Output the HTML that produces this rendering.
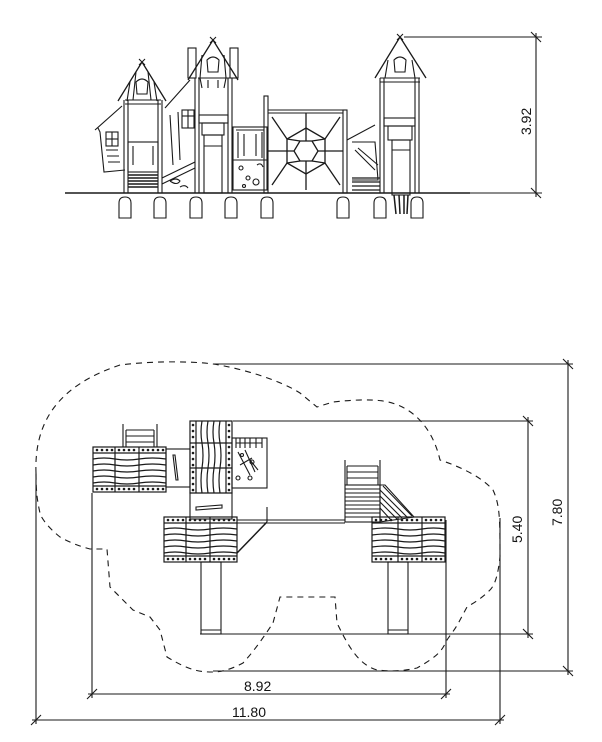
<!DOCTYPE html>
<html><head><meta charset="utf-8">
<style>
html,body{margin:0;padding:0;background:#fff;}
svg{display:block;}
text{font-family:"Liberation Sans",sans-serif;font-size:14px;fill:#111;}
</style></head>
<body>
<svg id="s" width="602" height="742" viewBox="0 0 602 742" xmlns="http://www.w3.org/2000/svg">
<g fill="none" stroke="#1a1a1a" stroke-width="1.1">

<!-- ===== ELEVATION ===== -->
<line x1="65" y1="193" x2="470" y2="193" stroke-width="1.4"/>
<line x1="470" y1="193" x2="542" y2="193"/>
<line x1="404" y1="37" x2="542" y2="37"/>
<line x1="536" y1="33" x2="536" y2="197"/>
<line x1="531" y1="32" x2="541" y2="42"/>
<line x1="531" y1="188" x2="541" y2="198"/>

<!-- left wing -->
<path d="M95 130 L122 106 M98 128 L100 132 L104 172 L125 170"/>
<rect x="106" y="132" width="12" height="14"/>
<line x1="106" y1="139" x2="118" y2="139"/><line x1="112" y1="132" x2="112" y2="146"/>
<path d="M106 150 L118 150 M107 156 L119 156 M108 162 L120 162"/>
<!-- left tower -->
<path d="M142 62 L118 101 M142 62 L166 101" stroke-width="1.3"/>
<path d="M139 59 l6 6 M145 59 l-6 6"/>
<path d="M130 82 L127 101 M154 82 L157 101 M136 72 L133 100 M148 72 L151 100"/>
<path d="M136 82 Q142 76 148 82 L147 94 L137 94 Z"/>
<path d="M125 100 L161 100 M125 104 L161 104"/>
<line x1="124" y1="100" x2="124" y2="193"/><line x1="128" y1="100" x2="128" y2="193"/>
<line x1="158" y1="100" x2="158" y2="193"/><line x1="162" y1="100" x2="162" y2="193"/>
<rect x="128" y="142" width="30" height="30"/>
<path d="M133 146 L133 165 M153 146 L153 165"/>
<path d="M128 175 L158 175 M128 178 L158 178 M128 181 L158 181 M128 184 L158 184 M128 187 L158 187" stroke-width="1.4"/>
<!-- ramp between -->
<path d="M162 178 L195 162 M162 184 L195 168 M165 108 L190 80"/>
<path d="M170 181 q6 -4 10 0 q-3 5 -10 0 M180 187 q5 -3 8 1"/>
<rect x="182" y="110" width="12" height="18"/>
<line x1="182" y1="116" x2="194" y2="116"/><line x1="188" y1="110" x2="188" y2="128"/>
<path d="M170 115 L173 165 M178 112 L180 160"/>
<!-- second tower -->
<path d="M213 40 L188 80 M213 40 L238 80" stroke-width="1.3"/>
<path d="M210 37 l6 6 M216 37 l-6 6"/>
<rect x="188" y="48" width="8" height="30"/><rect x="230" y="48" width="8" height="30"/>
<path d="M202 55 L200 78 M224 55 L226 78"/>
<path d="M207 60 Q213 54 219 60 L218 72 L208 72 Z"/>
<path d="M198 78 L230 78 M200 78 L202 88 M226 78 L224 88 M208 80 L208 88 M218 80 L218 88"/>
<line x1="195" y1="78" x2="195" y2="193"/><line x1="199" y1="78" x2="199" y2="193"/>
<line x1="228" y1="78" x2="228" y2="193"/><line x1="232" y1="78" x2="232" y2="193"/>
<rect x="199" y="115" width="29" height="8"/>
<rect x="202" y="123" width="22" height="12"/>
<rect x="204" y="135" width="18" height="58"/>
<line x1="204" y1="146" x2="222" y2="146"/>
<!-- climbing box -->
<rect x="233" y="127" width="34" height="63"/>
<line x1="233" y1="160" x2="267" y2="160"/>
<path d="M238 132 L238 158 M262 132 L262 158 M236 130 L264 130 M244 134 L244 156 M256 134 L256 156"/>
<circle cx="241" cy="168" r="2"/><circle cx="248" cy="178" r="2"/><circle cx="256" cy="182" r="3"/><path d="M257 165 q4 -3 6 2"/><circle cx="244" cy="186" r="1.5"/>
<!-- net panel -->
<rect x="264" y="96" width="4" height="97"/>
<rect x="343" y="110" width="4" height="83"/>
<line x1="268" y1="110" x2="343" y2="110"/><line x1="268" y1="113" x2="343" y2="113"/>
<g stroke-width="1.3">
<polygon points="300,141 312,141 318,151 312,161 300,161 294,151"/>
<polygon points="306,128 325,139 325,163 306,174 287,163 287,139"/>
<path d="M306 128 L306 113 M325 139 L340 117 M325 151 L343 151 M325 163 L340 185 M306 174 L306 190 M287 163 L272 185 M287 151 L268 151 M287 139 L272 117 M300 141 L287 139 M312 141 L325 139 M318 151 L325 151 M312 161 L325 163 M300 161 L287 163 M294 151 L287 151 M306 141 L306 128 M306 161 L306 174"/>
</g>
<!-- right side -->
<path d="M347 140 L375 125 M352 142 L375 142 L378 180 L352 180"/>
<path d="M355 150 L375 170 M358 148 L378 165"/>
<path d="M352 178 L380 178 M352 182 L380 182 M352 186 L380 186 M352 190 L380 190" stroke-width="1.3"/>
<!-- right tower -->
<path d="M400 37 L375 78 M400 37 L426 78" stroke-width="1.3"/>
<path d="M397 34 l6 6 M403 34 l-6 6"/>
<path d="M388 60 L385 78 M412 60 L415 78"/>
<path d="M394 60 Q400 54 406 60 L405 72 L395 72 Z"/>
<path d="M380 78 L420 78 M380 82 L420 82"/>
<line x1="380" y1="78" x2="380" y2="193"/><line x1="384" y1="78" x2="384" y2="193"/>
<line x1="415" y1="78" x2="415" y2="193"/><line x1="419" y1="78" x2="419" y2="193"/>
<rect x="384" y="118" width="31" height="8"/>
<rect x="388" y="126" width="24" height="14"/>
<rect x="392" y="140" width="18" height="55"/>
<line x1="392" y1="150" x2="410" y2="150"/>
<path d="M394 195 L396 214 M399 195 L400 214 M404 195 L404 214 M408 195 L407 214" stroke-width="1.5"/>
<!-- footings -->
<path d="M119 218 L119 203 Q119 197 125 197 Q131 197 131 203 L131 218 Z"/>
<path d="M154 218 L154 203 Q154 197 160 197 Q166 197 166 203 L166 218 Z"/>
<path d="M190 218 L190 203 Q190 197 196 197 Q202 197 202 203 L202 218 Z"/>
<path d="M225 218 L225 203 Q225 197 231 197 Q237 197 237 203 L237 218 Z"/>
<path d="M261 218 L261 203 Q261 197 267 197 Q273 197 273 203 L273 218 Z"/>
<path d="M337 218 L337 203 Q337 197 343 197 Q349 197 349 203 L349 218 Z"/>
<path d="M374 218 L374 203 Q374 197 380 197 Q386 197 386 203 L386 218 Z"/>
<path d="M411 218 L411 203 Q411 197 417 197 Q423 197 423 203 L423 218 Z"/>

<!-- ===== PLAN ===== -->
<line x1="213" y1="364" x2="573" y2="364"/>
<line x1="233" y1="421" x2="533" y2="421"/>
<line x1="200" y1="634" x2="533" y2="634"/>
<line x1="213" y1="671" x2="573" y2="671"/>
<line x1="528" y1="417" x2="528" y2="638"/>
<line x1="568" y1="360" x2="568" y2="675"/>
<line x1="523" y1="416" x2="533" y2="426"/><line x1="523" y1="629" x2="533" y2="639"/>
<line x1="563" y1="359" x2="573" y2="369"/><line x1="563" y1="666" x2="573" y2="676"/>
<line x1="92" y1="493" x2="92" y2="698"/>
<line x1="446" y1="520" x2="446" y2="698"/>
<line x1="36" y1="473" x2="36" y2="724"/>
<line x1="500" y1="518" x2="500" y2="724"/>
<line x1="88" y1="694" x2="450" y2="694"/>
<line x1="32" y1="720" x2="504" y2="720"/>
<line x1="87" y1="699" x2="97" y2="689"/><line x1="441" y1="699" x2="451" y2="689"/>
<line x1="31" y1="725" x2="41" y2="715"/><line x1="495" y1="725" x2="505" y2="715"/>

<path stroke-dasharray="6,5" d="M36 473 C34 420 60 385 120 365 C160 360 200 362 213 364 C240 368 280 380 300 393 L317 407 L333 402 C350 400 370 399 383 401 C410 405 432 425 440 460 C455 465 480 475 493 490 C500 505 500 520 500 557 C498 575 495 585 490 590 C480 600 470 605 467 607 L460 620 C455 630 450 635 447 640 C442 650 440 655 417 668 C400 672 385 671 377 670 C360 665 350 650 337 623 L335 597 L280 597 L273 623 C265 635 255 650 243 663 C230 670 220 672 213 672 C200 672 190 671 167 657 L160 630 L150 617 L133 610 L110 587 L107 549 L90 549 C75 545 65 540 60 537 C45 525 40 515 40 513 C37 500 36 490 36 473"/>

<path d="M123 424 L123 447 M157 424 L157 447 M126 430 L154 430 M126 436 L154 436 M126 442 L154 442 M126 430 L126 447 M154 430 L154 447"/>
<rect x="166" y="449" width="24" height="38"/>
<path d="M173 455 L176 480 L178 480 L175 455 Z"/>
<rect x="190" y="493" width="42" height="26"/>
<path d="M196 507 L222 505 L222 508 L196 510 Z"/>
<rect x="232" y="438" width="35" height="50"/>
<path d="M236 438 L236 448 M262 438 L262 448 M236 443 L262 443 M240 438 L240 448 M245 438 L245 448 M250 438 L250 448 M256 438 L256 448"/>
<path d="M238 452 L250 475 M245 450 L255 472 M250 460 L258 470 M240 465 L252 458"/>
<circle cx="242" cy="455" r="1.5"/><circle cx="252" cy="462" r="2"/><circle cx="238" cy="478" r="2"/><circle cx="250" cy="478" r="2"/>
<path d="M237 520 L345 520 M237 523 L345 523"/>
<line x1="267" y1="507" x2="267" y2="522"/>
<path d="M267 522 L237 553" stroke-width="1.5"/>
<path d="M345 460 L345 485 M380 460 L380 485 M347 466 L378 466 M347 472 L378 472 M347 478 L378 478 M347 466 L347 485 M378 466 L378 485"/>
<rect x="345" y="485" width="35" height="37"/>
<path d="M345 489 L380 489 M345 493 L380 493 M345 497 L380 497 M345 501 L380 501 M345 505 L380 505 M345 509 L380 509 M345 513 L380 513 M345 517 L380 517"/>
<path d="M380 485 L385 485 L414 517 L380 522 Z"/>
<path d="M380 490 L408 518 M380 496 L402 518 M380 502 L397 519 M380 508 L391 520 M383 486 L412 516"/>
<rect x="201" y="562" width="20" height="72"/><line x1="201" y1="630" x2="221" y2="630"/>
<rect x="388" y="562" width="20" height="72"/><line x1="388" y1="630" x2="408" y2="630"/>
</g>

<g id="blocks" fill="none" stroke="#1a1a1a" stroke-width="1.2"></g>

<g stroke="none">
<text x="244" y="691">8.92</text>
<text x="232" y="717">11.80</text>
<text transform="translate(522 543) rotate(-90)">5.40</text>
<text transform="translate(562 526) rotate(-90)">7.80</text>
<text transform="translate(531 135) rotate(-90)">3.92</text>
</g>
</svg>
<script>
(function(){
var g=document.getElementById('blocks'),NS='http://www.w3.org/2000/svg';
function el(t,a){var e=document.createElementNS(NS,t);for(var k in a)e.setAttribute(k,a[k]);g.appendChild(e);return e;}
function hblock(x0,y0,x1,y1,cols){
  el('rect',{x:x0,y:y0,width:x1-x0,height:y1-y0});
  el('line',{x1:x0,y1:y0+6,x2:x1,y2:y0+6});
  el('line',{x1:x0,y1:y1-6,x2:x1,y2:y1-6});
  cols.forEach(function(c){el('line',{x1:c,y1:y0,x2:c,y2:y1});});
  var xs=[x0].concat(cols).concat([x1]);
  for(var i=0;i<xs.length-1;i++){
    var a=xs[i],b=xs[i+1];
    for(var y=y0+12;y<y1-8;y+=6){
      el('path',{d:'M'+a+' '+y+' Q'+((a+b)/2)+' '+(y+(i%2?2:-2))+' '+b+' '+y});
    }
    for(var x=a+4;x<b-2;x+=5){
      el('circle',{cx:x,cy:y0+3,r:0.7,fill:'#222'});
      el('circle',{cx:x,cy:y1-3,r:0.7,fill:'#222'});
    }
  }
}
function vblock(x0,y0,x1,y1,rows){
  el('rect',{x:x0,y:y0,width:x1-x0,height:y1-y0});
  el('line',{x1:x0+6,y1:y0,x2:x0+6,y2:y1});
  el('line',{x1:x1-6,y1:y0,x2:x1-6,y2:y1});
  rows.forEach(function(r){el('line',{x1:x0,y1:r,x2:x1,y2:r});});
  var ys=[y0].concat(rows).concat([y1]);
  for(var i=0;i<ys.length-1;i++){
    var a=ys[i],b=ys[i+1];
    for(var x=x0+12;x<x1-8;x+=6){
      el('path',{d:'M'+x+' '+a+' Q'+(x+(i%2?2:-2))+' '+((a+b)/2)+' '+x+' '+b});
    }
    for(var y=a+4;y<b-2;y+=6){
      el('circle',{cx:x0+3,cy:y,r:0.7,fill:'#222'});
      el('circle',{cx:x1-3,cy:y,r:0.7,fill:'#222'});
    }
  }
}
hblock(93,447,166,492,[115,139]);
vblock(190,421,232,493,[443,468]);
hblock(164,517,237,562,[186,210]);
hblock(372,517,445,562,[398,422]);
})();
</script>
</body></html>
